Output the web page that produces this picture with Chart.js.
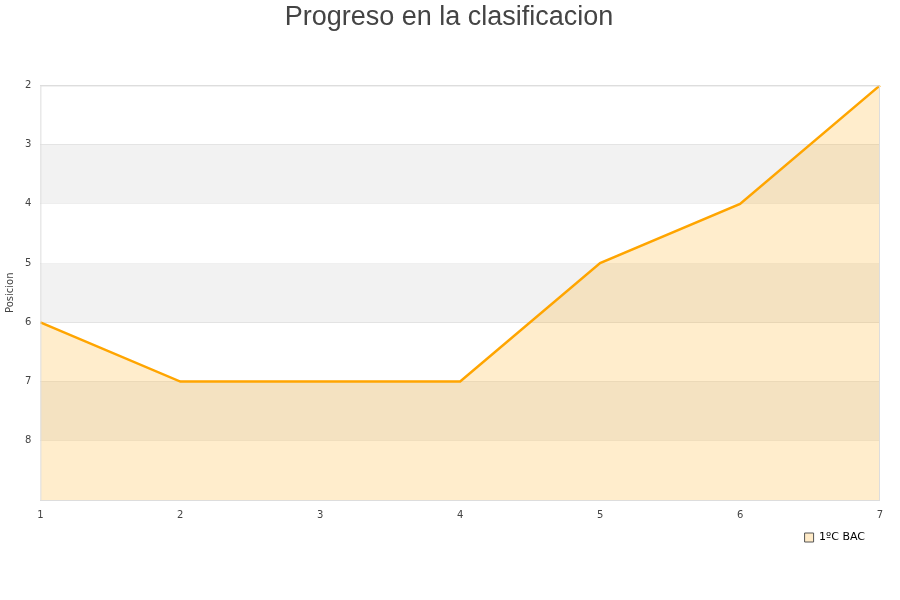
<!DOCTYPE html>
<html>
<head>
<meta charset="utf-8">
<script src="https://cdn.jsdelivr.net/npm/chart.js@4"></script>
<style>
  html, body { margin: 0; padding: 0; background: #fff; }
  #wrap { width: 900px; height: 600px; }
</style>
</head>
<body>
<div id="wrap"><canvas id="posChart"></canvas></div>
<script>
// data
const jornadas = [1, 2, 3, 4, 5, 6, 7];
const posiciones = [6, 7, 7, 7, 5, 4, 2];
const seriesName = '1ºC BAC';
const yMin = 2;
const yMax = 9;

// alternating grey bands + frame around the plot
const bandsPlugin = {
  id: 'bands',
  afterLayout(chart) {
    // center the title on the whole canvas, nudge the legend a bit left
    chart.titleBlock.left = 0;
    chart.titleBlock.right = chart.width - 2;
    chart.legend.left -= 5;
    chart.legend.right -= 5;
  },
  beforeDatasetsDraw(chart) {
    const ctx = chart.ctx;
    const area = chart.chartArea;
    const y = chart.scales.y;
    ctx.save();
    ctx.fillStyle = '#f2f2f2';
    for (let v = yMin + 1; v < yMax; v += 2) {
      const top = y.getPixelForValue(v);
      const bottom = y.getPixelForValue(v + 1);
      ctx.fillRect(area.left, top, area.right - area.left, bottom - top);
    }
    ctx.restore();
  },
  afterDraw(chart) {
    const ctx = chart.ctx;
    const area = chart.chartArea;
    ctx.save();
    ctx.strokeStyle = '#dddddd';
    ctx.lineWidth = 1;
    ctx.strokeRect(area.left + 0.5, area.top + 0.5, area.right - area.left - 1, area.bottom - area.top);
    ctx.restore();
  }
};

const el = document.getElementById('posChart');
new Chart(el, {
  type: 'line',
  data: {
    labels: jornadas,
    datasets: [{
      label: seriesName,
      data: posiciones,
      borderColor: '#ffa500',
      borderWidth: 2.5,
      backgroundColor: 'rgba(255, 165, 0, 0.2)',
      fill: { value: yMax },
      pointRadius: 0,
      tension: 0
    }]
  },
  options: {
    responsive: true,
    maintainAspectRatio: false,
    animation: false,
    layout: { padding: { top: 1, right: 20, bottom: 47, left: 4 } },
    plugins: {
      title: {
        display: true,
        text: 'Progreso en la clasificacion',
        color: '#444444',
        font: { family: 'Liberation Sans', size: 27, weight: 'normal' },
        padding: { top: 0, bottom: 52 }
      },
      legend: {
        position: 'bottom',
        align: 'end',
        labels: {
          color: '#111111',
          boxWidth: 9,
          boxHeight: 9,
          padding: 10,
          font: { family: 'DejaVu Sans', size: 11 },
          generateLabels() {
            return [{
              text: seriesName,
              fillStyle: '#ffebc8',
              strokeStyle: '#555555',
              lineWidth: 1,
              datasetIndex: 0
            }];
          }
        }
      },
      tooltip: { enabled: false }
    },
    scales: {
      x: {
        offset: false,
        grid: { display: false },
        border: { display: false },
        ticks: {
          color: '#444444',
          font: { family: 'DejaVu Sans', size: 10 },
          maxRotation: 0,
          padding: 1
        }
      },
      y: {
        reverse: true,
        min: yMin,
        max: yMax,
        grid: { color: '#dddddd', drawTicks: false },
        border: { display: false },
        title: {
          display: true,
          text: 'Posicion',
          color: '#444444',
          font: { family: 'DejaVu Sans', size: 10 },
          padding: 0
        },
        ticks: {
          stepSize: 1,
          color: '#444444',
          font: { family: 'DejaVu Sans', size: 10 },
          padding: 9,
          callback: v => (v === yMax ? '' : v)
        }
      }
    }
  },
  plugins: [bandsPlugin]
});
</script>
</body>
</html>
